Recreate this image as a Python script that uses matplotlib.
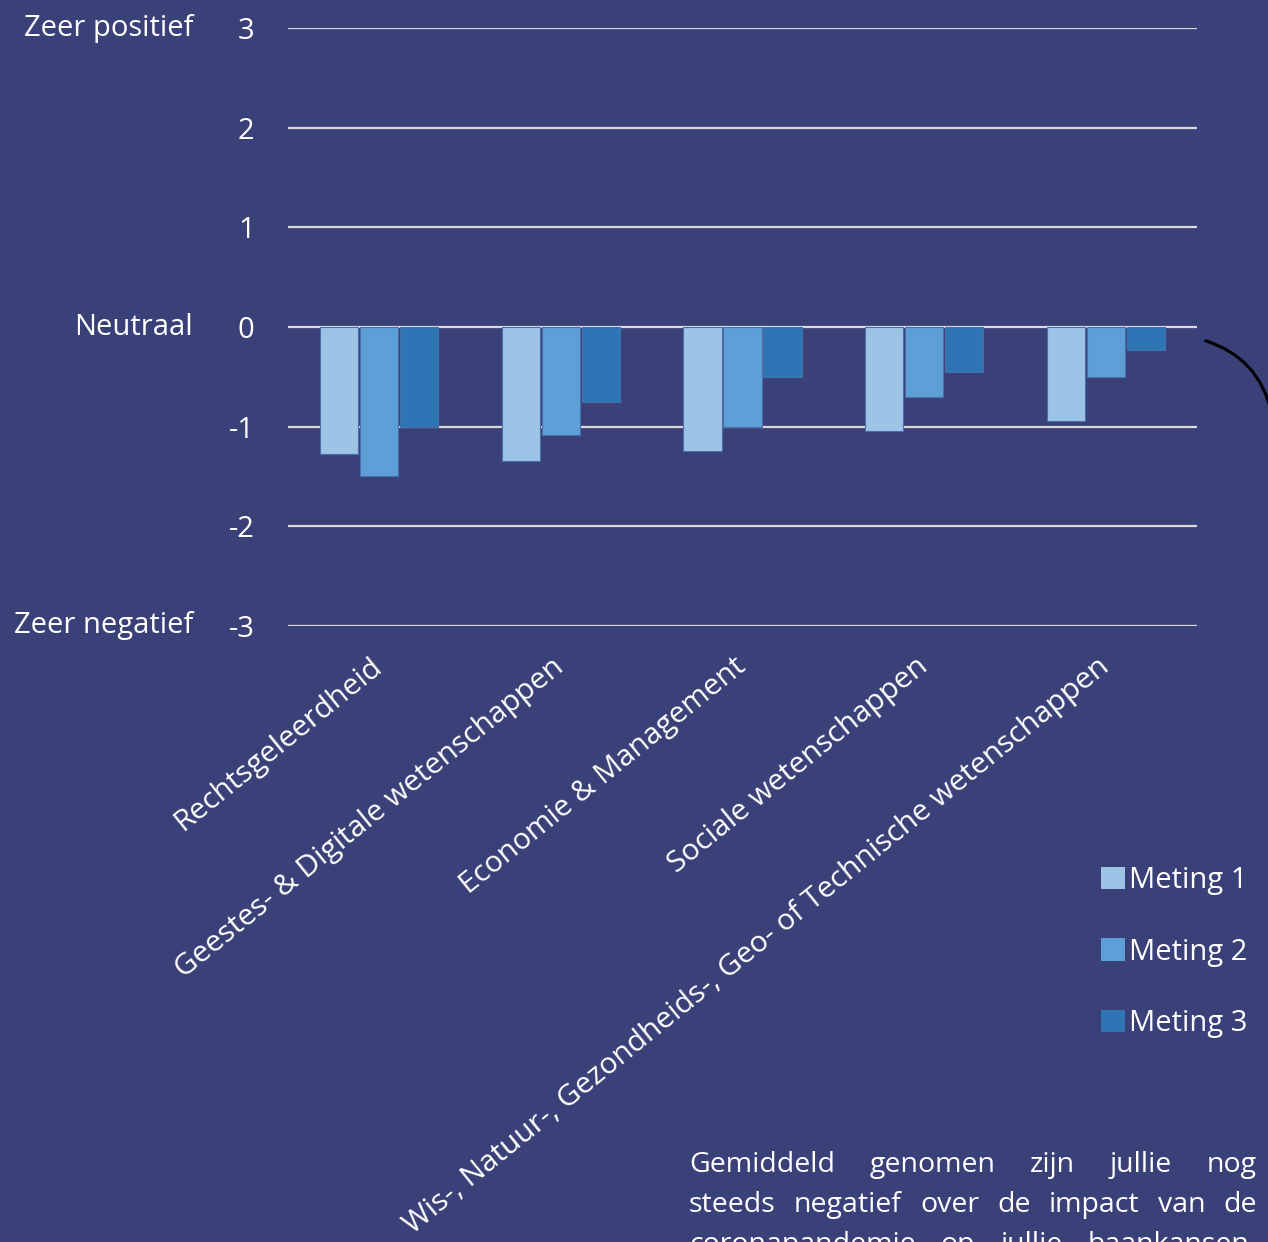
import matplotlib.pyplot as plt
from matplotlib.patches import FancyArrowPatch, Patch
import numpy as np

plt.rcParams['font.family'] = ['Open Sans', 'DejaVu Sans']

# data
categories = ['Rechtsgeleerdheid',
              'Geestes- & Digitale wetenschappen',
              'Economie & Management',
              'Sociale wetenschappen',
              'Wis-, Natuur-, Gezondheids-, Geo- of Technische wetenschappen']
meting1 = [-1.27, -1.34, -1.24, -1.04, -0.94]
meting2 = [-1.49, -1.08, -1.00, -0.70, -0.50]
meting3 = [-1.00, -0.75, -0.50, -0.45, -0.23]
series_names = ['Meting 1', 'Meting 2', 'Meting 3']
yticks = [3, 2, 1, 0, -1, -2, -3]
side_labels = {3: 'Zeer positief', 0: 'Neutraal', -3: 'Zeer negatief'}
note_lines = ['Gemiddeld genomen zijn jullie nog',
              'steeds negatief over de impact van de',
              'coronapandemie op jullie baankansen.']

bg = '#3A4179'
colors = ['#9DC3E6', '#5F9FD7', '#2E75B6']

W, H = 1268, 1242
fig = plt.figure(figsize=(W / 100, H / 100), dpi=100)
fig.patch.set_facecolor(bg)
ax = fig.add_axes([288 / W, 1 - 626 / H, 909 / W, 598 / H])
ax.set_facecolor(bg)

x = np.arange(len(categories))
step = 0.22
for i, vals in enumerate([meting1, meting2, meting3]):
    ax.bar(x + (i - 1) * step, vals, width=0.21, color=colors[i],
           edgecolor='#4A6FA8', linewidth=0.8, zorder=3)

ax.set_xlim(-0.5, len(categories) - 0.5)
ax.set_ylim(-3, 3)
ax.set_yticks(yticks)
ax.set_yticklabels([str(t) for t in yticks])
for t in yticks:
    ax.axhline(t, color='#D9D9D9', linewidth=1.6, zorder=2)

ax.tick_params(axis='y', length=0, pad=24, labelsize=21, labelcolor='white')
ax.tick_params(axis='x', length=0, pad=27)
ax.set_xticks(x)
ax.set_xticklabels(categories, rotation=39, ha='right', rotation_mode='anchor',
                   va='center', fontsize=21.5, color='white')
for s in ax.spines.values():
    s.set_visible(False)

for val, txt in side_labels.items():
    ax.text(-0.1045, val, txt, transform=ax.get_yaxis_transform(),
            ha='right', va='center', fontsize=21, color='white')

# legend
handles = [Patch(facecolor=c, edgecolor='none') for c in colors]
leg = fig.legend(handles, series_names, loc='upper left',
                 bbox_to_anchor=(1075 / W, 1 - 840 / H), frameon=False,
                 fontsize=21, labelcolor='white', handlelength=0.8,
                 handleheight=0.8, handletextpad=0.15, labelspacing=1.45)

# decorative curve on the right
fig.add_artist(FancyArrowPatch((1203 / W, 1 - 340 / H), (1272 / W, 1 - 415 / H),
                               transform=fig.transFigure, arrowstyle='-',
                               connectionstyle='arc3,rad=-0.3',
                               color='black', linewidth=2.2))

# justified note text at the bottom
left, right = 689 / W, 1257 / W
renderer = fig.canvas.get_renderer()
for k, line in enumerate(note_lines):
    y = 1 - (1172 + 40 * k) / H
    words = line.split()
    objs = [fig.text(0, y, w, fontsize=20.5, color='white', va='baseline')
            for w in words]
    widths = [o.get_window_extent(renderer).width / W for o in objs]
    gap = (right - left - sum(widths)) / (len(words) - 1)
    pos = left
    for o, w in zip(objs, widths):
        o.set_x(pos)
        pos += w + gap

fig.savefig('out.png', dpi=100, facecolor=bg)
